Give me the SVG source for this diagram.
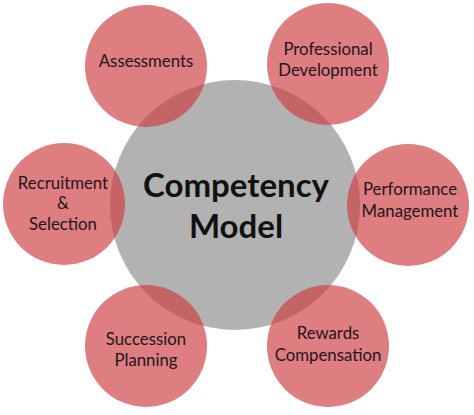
<svg xmlns="http://www.w3.org/2000/svg" width="474" height="415" viewBox="0 0 474 415">
<style>
.sat{fill:rgb(206,59,62);fill-opacity:0.66}
.lbl{font-family:Lato,"Open Sans",sans-serif;font-size:16.8px;fill:#22161a;text-anchor:middle}
.core{font-family:Lato,"Open Sans",sans-serif;font-size:33px;font-weight:bold;fill:#111;text-anchor:middle}
</style>
<rect width="474" height="415" fill="#fff"/>
<g id="core">
<circle cx="235" cy="205" r="125" fill="#b2b2b2"/>
</g>
<g id="connectors"></g>
<g id="assessments"><circle class="sat" cx="146" cy="66" r="61"/><text class="lbl" x="146" y="67">Assessments</text></g>
<g id="professional"><circle class="sat" cx="328" cy="64" r="61"/><text class="lbl" x="328" y="55">Professional</text><text class="lbl" x="328" y="76">Development</text></g>
<g id="recruitment"><circle class="sat" cx="64" cy="204" r="61"/><text class="lbl" x="63" y="189">Recruitment</text><text class="lbl" x="63" y="209">&amp;</text><text class="lbl" x="63" y="230">Selection</text></g>
<g id="performance"><circle class="sat" cx="408" cy="205" r="61"/><text class="lbl" x="410" y="195">Performance</text><text class="lbl" x="410" y="217">Management</text></g>
<g id="succession"><circle class="sat" cx="146" cy="346" r="61"/><text class="lbl" x="146" y="345">Succession</text><text class="lbl" x="146" y="366">Planning</text></g>
<g id="rewards"><circle class="sat" cx="328" cy="346" r="61"/><text class="lbl" x="328" y="339">Rewards</text><text class="lbl" x="328" y="361">Compensation</text></g>
<g id="core-label"><text class="core" x="236" y="197">Competency</text><text class="core" x="236" y="238">Model</text></g>
</svg>
